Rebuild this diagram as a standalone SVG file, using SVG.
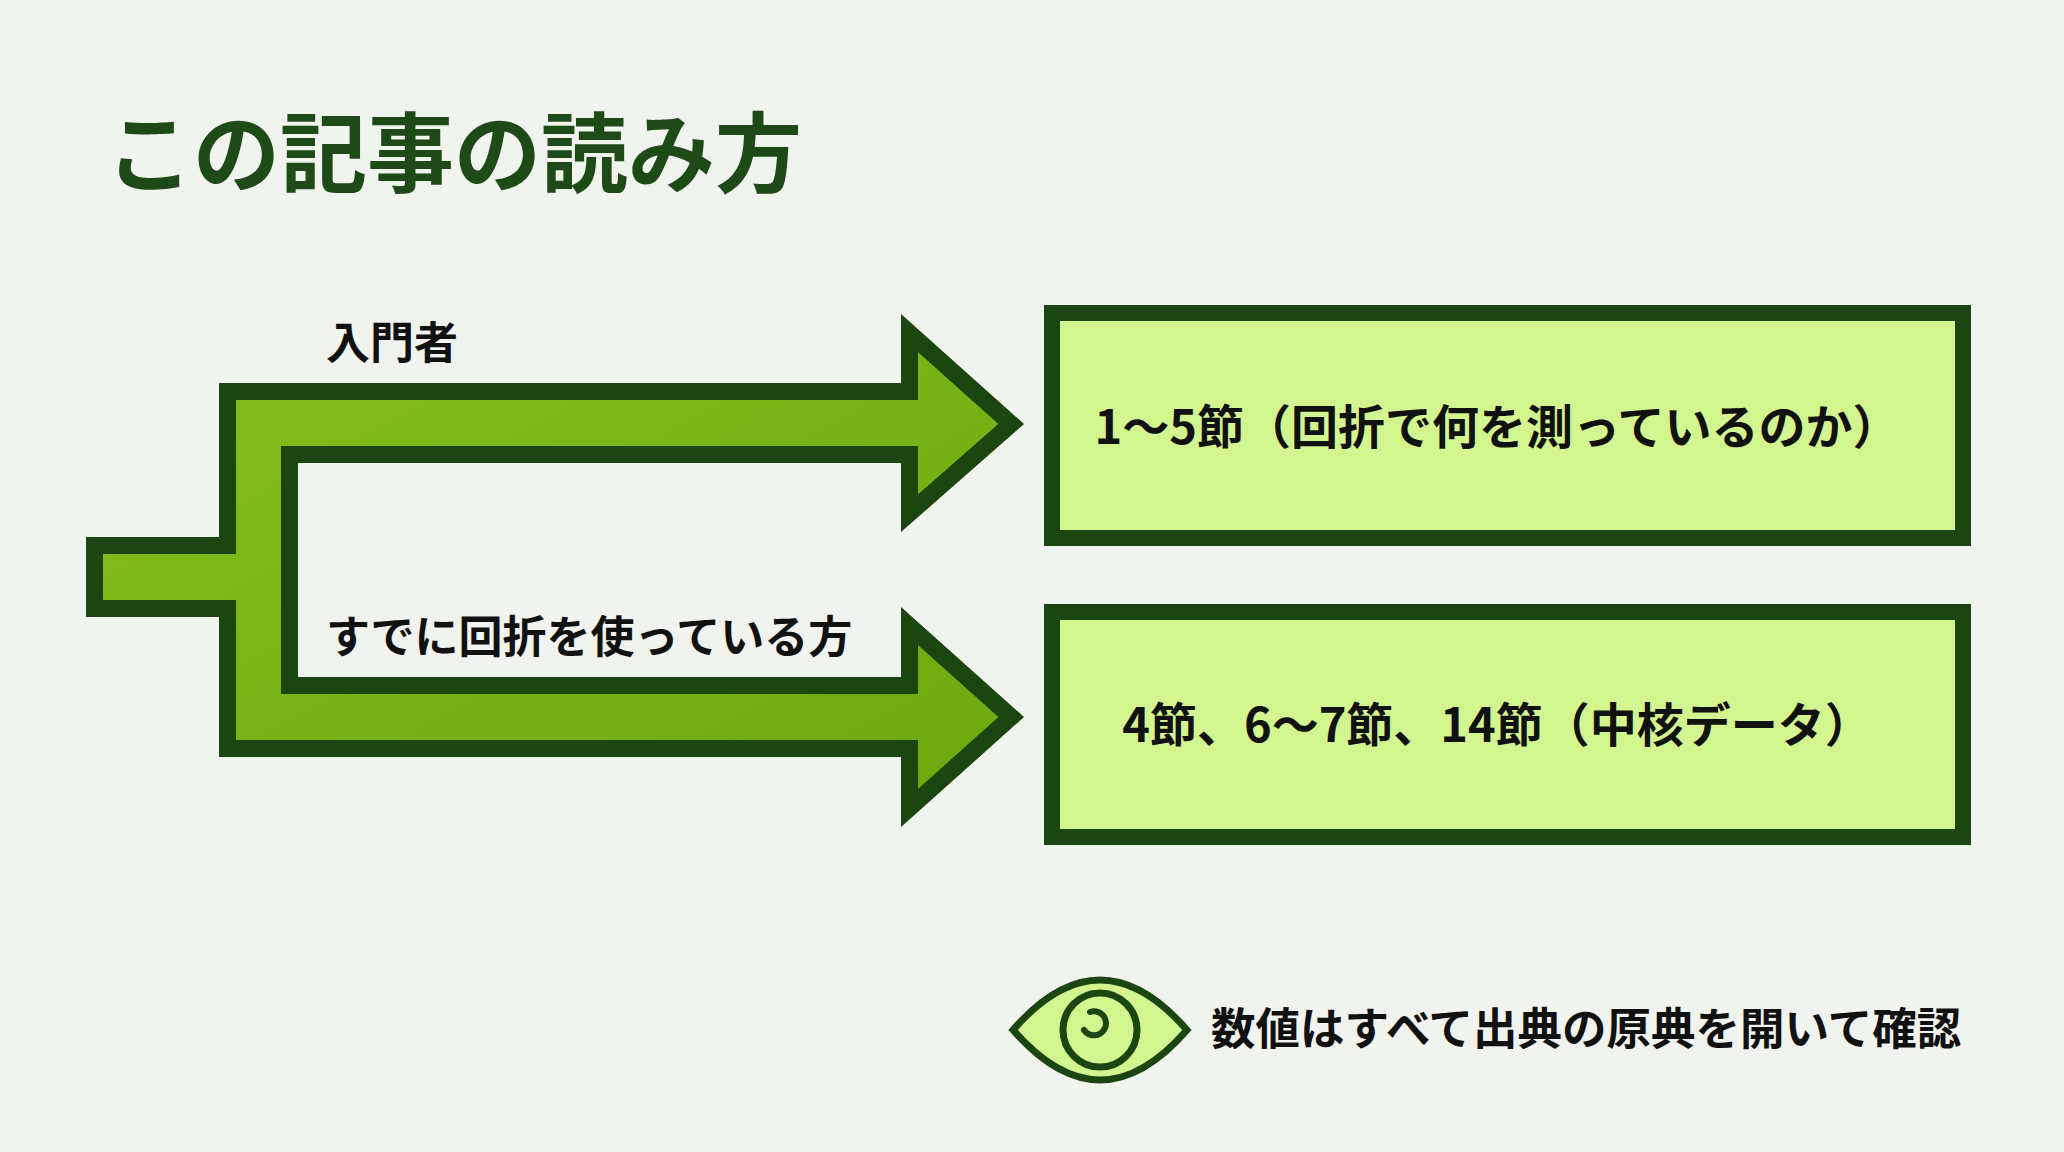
<svg xmlns="http://www.w3.org/2000/svg" width="2064" height="1152" viewBox="0 0 2064 1152">
<style>
.t{font-family:"Noto Sans CJK JP","Noto Sans",sans-serif;font-weight:700;fill:#111}
.box{fill:#d3f58f;stroke:#1b4611;stroke-width:16}
</style>
<defs>
<linearGradient id="g" x1="0" y1="0" x2="1" y2="1"><stop offset="0" stop-color="#86c01f"/><stop offset="1" stop-color="#6aa80e"/></linearGradient>
<clipPath id="c"><path d="M86,537 H219 V383 H901 V314 L1024,424 L901,532 V463 H298 V677 H901 V607 L1024,717 L901,827 V757 H219 V617 H86 Z"/></clipPath>
</defs>
<rect width="2064" height="1152" fill="#f1f3ee"/>
<text class="t" x="106" y="186" font-size="87" style="fill:#1d4a17">この記事の読み方</text>
<g id="connectors">
<path d="M86,537 H219 V383 H901 V314 L1024,424 L901,532 V463 H298 V677 H901 V607 L1024,717 L901,827 V757 H219 V617 H86 Z" fill="url(#g)" stroke="#1b4611" stroke-width="34" stroke-linejoin="miter" clip-path="url(#c)"/>
<text class="t" x="326" y="359" font-size="44">入門者</text>
<text class="t" x="326" y="653" font-size="44">すでに回折を使っている方</text>
</g>
<g id="box1"><rect class="box" x="1052" y="313" width="911" height="225"/>
<text class="t" x="1497" y="444" font-size="47" text-anchor="middle">1～5節（回折で何を測っているのか）</text></g>
<g id="box2"><rect class="box" x="1052" y="612" width="911" height="225"/>
<text class="t" x="1497" y="742" font-size="47" text-anchor="middle">4節、6～7節、14節（中核データ）</text></g>
<g id="note">
<path d="M1013,1030 Q1100,930 1187,1030 Q1100,1130 1013,1030 Z" fill="#d3f58f" stroke="#1b4611" stroke-width="7"/>
<circle cx="1100" cy="1030" r="37" fill="#d3f58f" stroke="#1b4611" stroke-width="7"/>
<path d="M1090,1012 A12,12 0 1 1 1084,1030" fill="none" stroke="#1b4611" stroke-width="6" stroke-linecap="round"/>
<text class="t" x="1211" y="1045" font-size="44.5">数値はすべて出典の原典を開いて確認</text>
</g>
</svg>
